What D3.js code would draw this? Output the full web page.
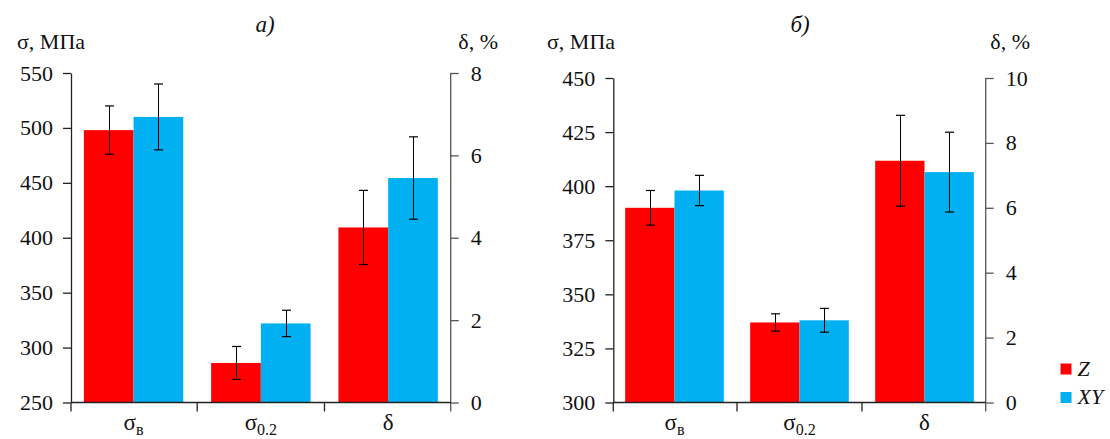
<!DOCTYPE html>
<html>
<head>
<meta charset="utf-8">
<script src="https://cdn.jsdelivr.net/npm/d3@7"></script>
<style>
  body { margin: 0; background: #fff; }
  svg text { font-family: "Liberation Serif", "Times New Roman", serif !important; }
</style>
</head>
<body>
<div id="chart"></div>
<script>
// Data
const catBase = ["σ", "σ", "δ"];
const catSub = ["в", "0.2", ""];
const categories = ["sb", "s02", "d"];
const seriesNames = ["Z", "XY"];
const seriesColors = ["#ff0000", "#00b0f0"];

// panel а)
const zA = [498, 286, 4.25];
const zAErr = [22, 15, 0.9];
const xyA = [510, 322, 5.45];
const xyAErr = [30, 12, 1.0];

// panel б)
const zB = [390, 337, 7.45];
const zBErr = [8, 4, 1.4];
const xyB = [398, 338, 7.1];
const xyBErr = [7, 5.5, 1.23];

const width = 1110, height = 439;

const svg = d3.select("#chart").append("svg")
    .attr("width", width)
    .attr("height", height);

function drawPanel(p) {
    const g = svg.append("g");

    const x = d3.scaleBand()
        .domain(categories)
        .range([p.x0, p.x1])
        .paddingInner(p.padIn)
        .paddingOuter(p.padOut);
    const xs = d3.scaleBand()
        .domain(seriesNames)
        .range([0, x.bandwidth()]);

    const yL = d3.scaleLinear().domain(p.leftDomain).range([p.yBot, p.yTop]);
    const yR = d3.scaleLinear().domain(p.rightDomain).range([p.yBot, p.yTop]);

    // δ group is read on the right axis
    const yFor = i => i === 2 ? yR : yL;

    const series = [
        { name: "Z", vals: p.z, errs: p.zErr, color: seriesColors[0] },
        { name: "XY", vals: p.xy, errs: p.xyErr, color: seriesColors[1] }
    ];

    series.forEach(s => {
        categories.forEach((c, i) => {
            const y = yFor(i);
            const bx = x(c) + xs(s.name);
            g.append("rect")
                .attr("x", bx)
                .attr("y", y(s.vals[i]))
                .attr("width", xs.bandwidth())
                .attr("height", p.yBot - y(s.vals[i]))
                .attr("fill", s.color);

            // error bar
            const cx = Math.round(bx + xs.bandwidth() / 2) + 0.5;
            const top = y(s.vals[i] + s.errs[i]);
            const bot = y(s.vals[i] - s.errs[i]);
            g.append("line")
                .attr("x1", cx).attr("x2", cx)
                .attr("y1", top).attr("y2", bot)
                .attr("stroke", "#000").attr("stroke-width", 1);
            [top, bot].forEach(yy => {
                g.append("line")
                    .attr("x1", cx - 4.5).attr("x2", cx + 4.5)
                    .attr("y1", yy).attr("y2", yy)
                    .attr("stroke", "#000").attr("stroke-width", 1.2);
            });
        });
    });

    // left axis
    const axL = g.append("g")
        .attr("transform", `translate(${p.x0},0)`)
        .call(d3.axisLeft(yL).tickValues(d3.range(p.leftDomain[0], p.leftDomain[1] + 1, p.leftStep))
            .tickSize(8).tickPadding(10).tickSizeOuter(0))
        .attr("font-family", null).attr("font-size", 22);
    axL.select(".domain").attr("stroke", "#222").attr("stroke-width", 1.3);
    axL.selectAll(".tick line").attr("stroke", "#222").attr("stroke-width", 1.3);
    axL.selectAll(".tick text").attr("fill", "#111");

    // right axis
    const axR = g.append("g")
        .attr("transform", `translate(${p.x1},0)`)
        .call(d3.axisRight(yR).tickValues(d3.range(p.rightDomain[0], p.rightDomain[1] + 0.01, p.rightStep))
            .tickSize(8).tickPadding(12).tickSizeOuter(0))
        .attr("font-family", null).attr("font-size", 22);
    axR.select(".domain").attr("stroke", "#555").attr("stroke-width", 1.3)
        .attr("d", `M0,${p.yTop}V${p.yBot + 9}`);
    axR.selectAll(".tick line").attr("stroke", "#555").attr("stroke-width", 1.3);
    axR.selectAll(".tick text").attr("fill", "#111");

    // bottom axis with separators between category groups
    g.append("line")
        .attr("x1", p.x0).attr("x2", p.x1)
        .attr("y1", p.yBot).attr("y2", p.yBot)
        .attr("stroke", "#222").attr("stroke-width", 1.3);
    const gap = x.step() - x.bandwidth();
    const seps = [p.x0].concat(categories.slice(1).map(c => x(c) - gap / 2));
    seps.forEach(sx => {
        g.append("line")
            .attr("x1", sx).attr("x2", sx)
            .attr("y1", p.yBot).attr("y2", p.yBot + 9)
            .attr("stroke", "#222").attr("stroke-width", 1.3);
    });

    // category labels
    categories.forEach((c, i) => {
        const t = g.append("text")
            .attr("x", x(c) + x.bandwidth() / 2)
            .attr("y", 430)
            .attr("text-anchor", "middle")
            .attr("font-size", 23)
            .attr("fill", "#111");
        t.append("tspan").text(catBase[i]);
        if (catSub[i]) {
            t.append("tspan").attr("dy", 5).attr("font-size", 16).text(catSub[i]);
        }
    });

    // axis titles
    g.append("text")
        .attr("x", p.leftTitleX).attr("y", 49)
        .attr("font-size", 22).attr("fill", "#111")
        .text("σ, МПа");
    g.append("text")
        .attr("x", p.rightTitleX).attr("y", 49)
        .attr("text-anchor", "end")
        .attr("font-size", 22).attr("fill", "#111")
        .text("δ, %");
    g.append("text")
        .attr("x", p.titleX).attr("y", 32)
        .attr("text-anchor", "middle")
        .attr("font-size", 23).attr("font-style", "italic").attr("fill", "#111")
        .text(p.title);
}

drawPanel({
    x0: 71, x1: 450.7, yTop: 73, yBot: 402.5,
    padIn: 0.219, padOut: 0.101,
    leftDomain: [250, 550], leftStep: 50,
    rightDomain: [0, 8], rightStep: 2,
    z: zA, zErr: zAErr, xy: xyA, xyErr: xyAErr,
    leftTitleX: 17, rightTitleX: 498, titleX: 265, title: "а)"
});

drawPanel({
    x0: 613.3, x1: 985.7, yTop: 78, yBot: 402.5,
    padIn: 0.211, padOut: 0.095,
    leftDomain: [300, 450], leftStep: 25,
    rightDomain: [0, 10], rightStep: 2,
    z: zB, zErr: zBErr, xy: xyB, xyErr: xyBErr,
    leftTitleX: 547, rightTitleX: 1030, titleX: 800, title: "б)"
});

// legend
const legend = svg.append("g").attr("transform", "translate(1060.5,363.5)");
seriesNames.forEach((s, i) => {
    legend.append("rect")
        .attr("x", 0).attr("y", i * 28.5)
        .attr("width", 11).attr("height", 11)
        .attr("fill", seriesColors[i]);
    legend.append("text")
        .attr("x", 17).attr("y", i * 28.5 + 12)
        .attr("font-size", 22).attr("font-style", "italic").attr("fill", "#111")
        .text(s);
});
</script>
</body>
</html>
